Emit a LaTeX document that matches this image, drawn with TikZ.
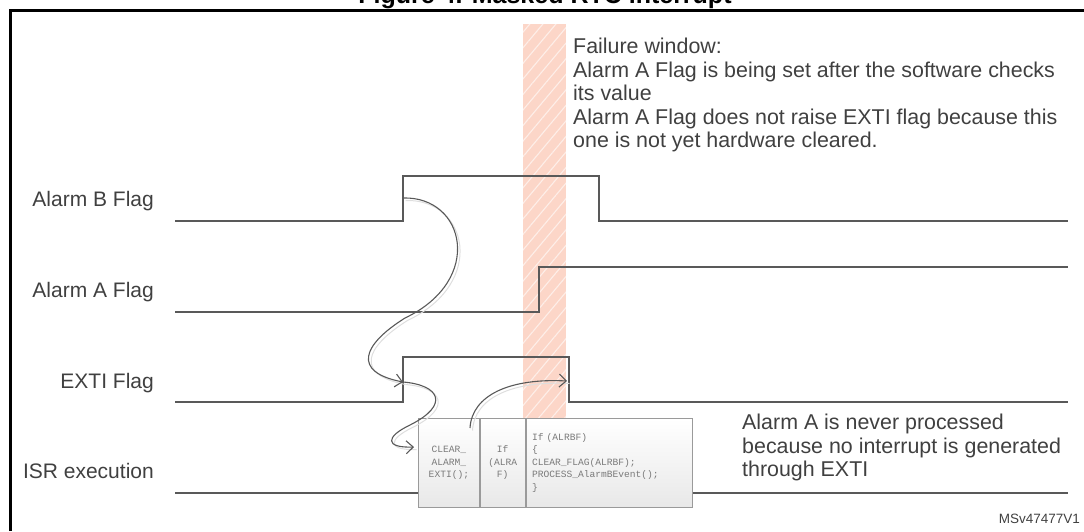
\documentclass[tikz,border=0pt]{standalone}
\usepackage{fontspec}
\setmainfont{Liberation Sans}
\setmonofont{Liberation Mono}
\usetikzlibrary{arrows.meta,patterns.meta}
\definecolor{sigc}{HTML}{595959}
\definecolor{txtc}{HTML}{404040}
\definecolor{codec}{HTML}{7A7A7A}
\definecolor{stripec}{RGB}{252,214,200}
\definecolor{boxc}{HTML}{9A9A9A}
\begin{document}
\begin{tikzpicture}[x=1pt,y=-1pt,
  sig/.style={draw=sigc, line width=2.4pt, line join=miter},
  lbl/.style={text=txtc, font=\fontsize{21}{23.5}\selectfont, inner sep=0pt},
  note/.style={text=txtc, font=\fontsize{21.4}{23.5}\selectfont, inner sep=0pt},
  isrbox/.style={draw=boxc, line width=0.8pt, top color=white, bottom color=black!9,
    minimum height=89pt, inner ysep=0pt, inner xsep=0pt,
    font=\fontsize{9.6}{12.6}\selectfont\ttfamily, text=codec},
  link/.style={draw=sigc, line width=1.1pt, -{Straight Barb[length=7pt,width=13pt]},
    preaction={draw=black!13, line width=1pt, arrows=-, transform canvas={shift={(2.5pt,-2.5pt)}}}}]
\useasboundingbox (0,0) rectangle (1084,531);

% title (cut off at top, as in the reference)
\node[font=\bfseries\fontsize{25}{25}\selectfont, anchor=base, inner sep=0pt] (title) at (545,3) {Figure 4. Masked RTC interrupt};

% frame
\draw[line width=3pt, black] (10,531) -- (10,10) -- (1084,10);

% failure window stripe
\fill[stripec] (523,24) rectangle (566,418);
\path[pattern={Lines[angle=50,distance=10pt,line width=1.1pt]}, pattern color=white, opacity=0.6] (523,24) rectangle (566,418);

% signal labels
\node[lbl, anchor=base east] (lb) at (154,206) {Alarm B Flag};
\node[lbl, anchor=base east] (la) at (154,297) {Alarm A Flag};
\node[lbl, anchor=base east] (le) at (154,388) {EXTI Flag};
\node[lbl, anchor=base east] (li) at (154,478) {ISR execution};

% waveforms
\draw[sig] (175,221) -- (403,221) -- (403,176) -- (599,176) -- (599,221) -- (1068,221);
\draw[sig] (175,312) -- (539,312) -- (539,267) -- (1068,267);
\draw[sig] (175,402) -- (403,402) -- (403,357) -- (569,357) -- (569,402) -- (1068,402);
\draw[sig] (175,493) -- (1068,493);

\coordinate (bRise) at (403,198);
\coordinate (eRise) at (403,382);
\coordinate (eFall) at (567,381);

% ISR boxes
\node[isrbox, anchor=north west, text width=61pt, align=center] (clr) at (418,418) {CLEAR\_\\ALARM\_\\EXTI();};
\node[isrbox, anchor=north west, text width=45pt, align=center] (ifa) at (clr.north east) {If\\(ALRA\\F)};
\node[isrbox, anchor=north west, text width=154pt, inner xsep=6pt, align=left] (ifb) at (ifa.north east) {If (ALRBF)\\\{\\CLEAR\_FLAG(ALRBF);\\PROCESS\_AlarmBEvent();\\\}};

\coordinate (clrIn) at (414,447);
\coordinate (clrOut) at (470,428);

% curved arrows
\draw[link] (bRise) .. controls (465,196) and (485,280) .. (405,318)
            .. controls (362,345) and (352,372) .. (eRise);
\draw[link] (eRise) .. controls (440,385) and (450,405) .. (410,425)
            .. controls (385,437) and (385,448) .. (clrIn);
\draw[link] (clrOut) .. controls (472,395) and (510,378) .. (eFall);

% texts
\node[note, anchor=north west, align=left] (fail) at (573,38) {Failure window:\\Alarm A Flag is being set after the software checks\\its value\\Alarm A Flag does not raise EXTI flag because this\\one is not yet hardware cleared.};
\node[note, anchor=north west, align=left] (never) at (742,414) {Alarm A is never processed\\because no interrupt is generated\\through EXTI};
\node[text=txtc, font=\fontsize{13.5}{14}\selectfont, anchor=base east, inner sep=0pt] (ref) at (1080,523) {MSv47477V1};
\end{tikzpicture}
\end{document}
